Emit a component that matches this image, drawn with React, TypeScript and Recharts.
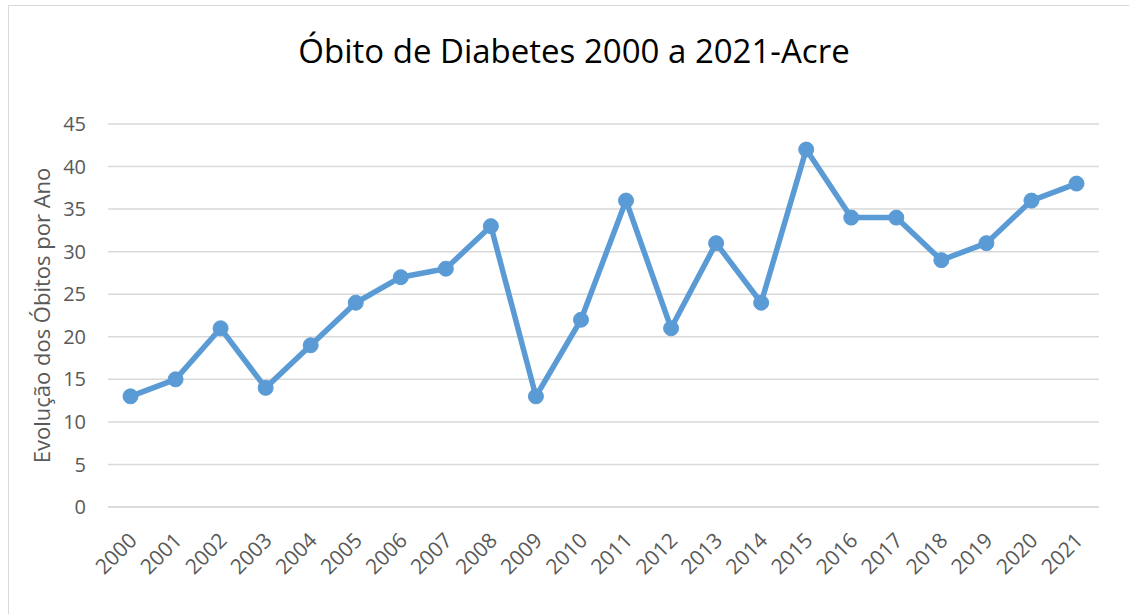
import { LineChart, Line, XAxis, YAxis, CartesianGrid } from "recharts"

const anos = [
    "2000", "2001", "2002", "2003", "2004", "2005", "2006", "2007", "2008", "2009", "2010",
    "2011", "2012", "2013", "2014", "2015", "2016", "2017", "2018", "2019", "2020", "2021",
]
const obitos = [13, 15, 21, 14, 19, 24, 27, 28, 33, 13, 22, 36, 21, 31, 24, 42, 34, 34, 29, 31, 36, 38]
const yTicks = [0, 5, 10, 15, 20, 25, 30, 35, 40, 45]

const data = anos.map((ano, i) => ({ ano, obitos: obitos[i] }))

const FONT = "'Open Sans', sans-serif"
const AZUL = "#5b9bd5"
const CINZA = "#595959"

function AnoTick(props: any) {
    const { x, y, payload } = props
    return (
        <g transform={`translate(${x + 2},${y + 29}) rotate(-45)`}>
            <text x={0} y={0} textAnchor="end" dominantBaseline="central" fill={CINZA} fontSize={21} fontFamily={FONT}>
                {payload.value}
            </text>
        </g>
    )
}

export default function App() {
    return (
        <div style={{ position: "absolute", left: 0, top: 0, width: 1129, height: 614, overflow: "hidden", background: "#fff" }}>
            <div
                style={{
                    position: "absolute",
                    left: 8,
                    top: 5,
                    width: 1140,
                    height: 640,
                    border: "1px solid #d9d9d9",
                    boxSizing: "border-box",
                }}
            />
            <div
                style={{
                    position: "absolute",
                    left: 0,
                    top: 34,
                    width: 1148,
                    textAlign: "center",
                    fontFamily: FONT,
                    fontSize: 33,
                    lineHeight: 1,
                    color: "#000",
                }}
            >
                Óbito de Diabetes 2000 a 2021-Acre
            </div>
            <div style={{ position: "absolute", left: 0, top: 0 }}>
                <LineChart width={1129} height={614} data={data} margin={{ top: 124, right: 30, left: 8, bottom: 47 }}>
                    <CartesianGrid vertical={false} stroke="#d9d9d9" strokeWidth={1.5} />
                    <XAxis
                        dataKey="ano"
                        height={60}
                        interval={0}
                        padding={{ left: 22.5, right: 22.5 }}
                        tickLine={false}
                        axisLine={{ stroke: "#d9d9d9", strokeWidth: 1.5 }}
                        tickSize={0}
                        tickMargin={0}
                        tick={<AnoTick />}
                    />
                    <YAxis
                        width={100}
                        domain={[0, 45]}
                        ticks={yTicks}
                        interval={0}
                        axisLine={false}
                        tickLine={false}
                        tickSize={0}
                        tickMargin={22}
                        tick={{ fill: CINZA, fontSize: 20, fontFamily: FONT }}
                        label={{
                            value: "Evolução dos Óbitos por Ano",
                            angle: -90,
                            position: "insideLeft",
                            offset: 34,
                            style: { textAnchor: "middle", fill: CINZA, fontSize: 22, fontFamily: FONT },
                        }}
                    />
                    <Line
                        type="linear"
                        dataKey="obitos"
                        stroke={AZUL}
                        strokeWidth={5.5}
                        dot={{ r: 7.5, fill: AZUL, stroke: AZUL, strokeWidth: 1 }}
                        activeDot={false}
                        isAnimationActive={false}
                    />
                </LineChart>
            </div>
        </div>
    )
}
